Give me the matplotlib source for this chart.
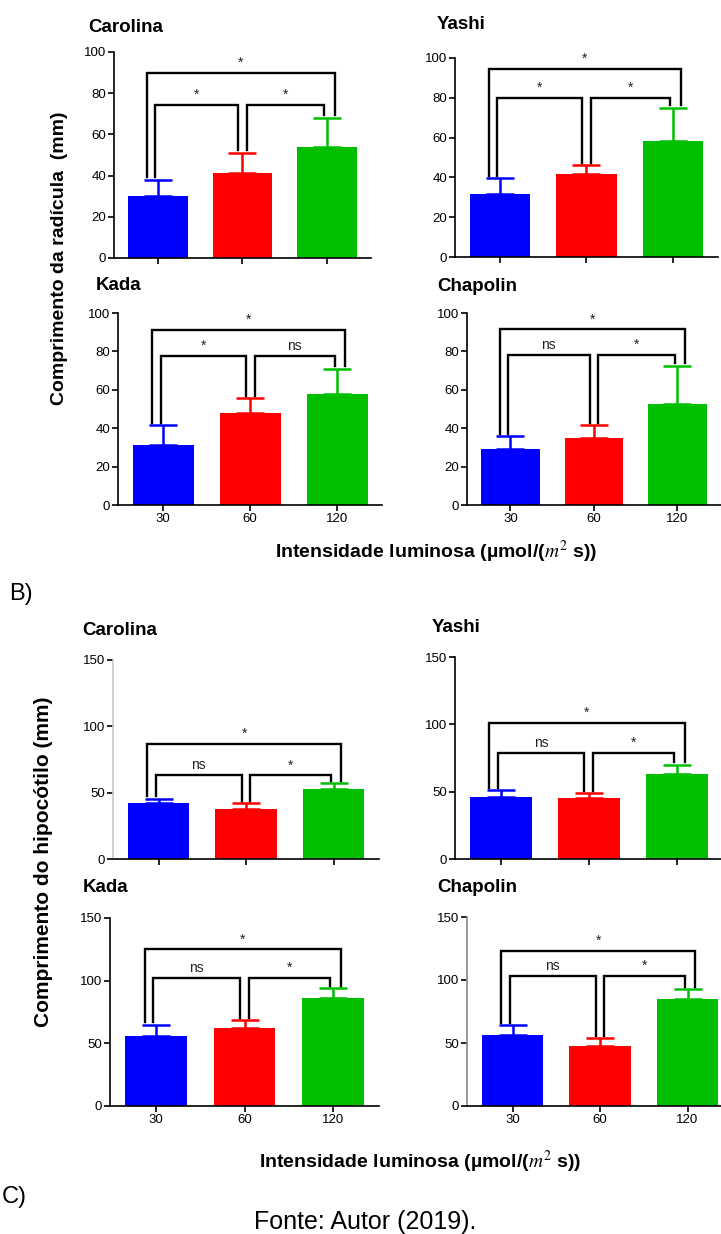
import matplotlib
matplotlib.use("Agg")
import matplotlib.pyplot as plt
from matplotlib import font_manager

W, H = 721, 1234

intensidades = ["30", "60", "120"]
cores = ["#0000ff", "#ff0000", "#00bf00"]
cultivares = ["Carolina", "Yashi", "Kada", "Chapolin"]

# comprimento da radicula (mm): media e desvio (so a barra de cima)
rad_carolina = [30, 41.5, 54]
rad_carolina_sd = [8, 9.5, 14]
rad_yashi = [31.5, 41.5, 58.5]
rad_yashi_sd = [8, 4.5, 16.5]
rad_kada = [31.5, 48, 58]
rad_kada_sd = [10, 7.5, 13]
rad_chapolin = [29, 35, 52.5]
rad_chapolin_sd = [7, 6.5, 20]
# significancia: (30 x 120, 30 x 60, 60 x 120)
rad_sig = {"Carolina": ["*", "*", "*"], "Yashi": ["*", "*", "*"],
           "Kada": ["*", "*", "ns"], "Chapolin": ["*", "ns", "*"]}
rad_chave = {"Carolina": (90, 74.5), "Yashi": (94.5, 80),
             "Kada": (91, 77.5), "Chapolin": (91.5, 78)}

# comprimento do hipocotilo (mm)
hip_carolina = [42, 37.5, 53]
hip_carolina_sd = [3.5, 4.5, 4]
hip_yashi = [46, 45, 63]
hip_yashi_sd = [5, 4, 7]
hip_kada = [56, 62, 86]
hip_kada_sd = [9, 6.5, 8]
hip_chapolin = [56, 48, 85]
hip_chapolin_sd = [8, 6, 8]
hip_sig = {"Carolina": ["*", "ns", "*"], "Yashi": ["*", "ns", "*"],
           "Kada": ["*", "ns", "*"], "Chapolin": ["*", "ns", "*"]}
hip_chave = {"Carolina": (87, 63), "Yashi": (101, 79),
             "Kada": (125, 102), "Chapolin": (123, 103)}

rad = {"Carolina": (rad_carolina, rad_carolina_sd), "Yashi": (rad_yashi, rad_yashi_sd),
       "Kada": (rad_kada, rad_kada_sd), "Chapolin": (rad_chapolin, rad_chapolin_sd)}
hip = {"Carolina": (hip_carolina, hip_carolina_sd), "Yashi": (hip_yashi, hip_yashi_sd),
       "Kada": (hip_kada, hip_kada_sd), "Chapolin": (hip_chapolin, hip_chapolin_sd)}

instalados = {f.name for f in font_manager.fontManager.ttflist}
fonte = "Liberation Sans" if "Liberation Sans" in instalados else "DejaVu Sans"
plt.rcParams["font.family"] = fonte
plt.rcParams["mathtext.fontset"] = "stix"

fig = plt.figure(figsize=(W / 100, H / 100), dpi=100)


def fx(x):
    return x / W


def fy(y):
    return 1 - y / H


def painel(nome, media, sd, sig, chave, ymax, yticks, left, y0, ytop, passo,
           rotulos_x, cinza=None):
    xlo = -0.52
    largura = min(3.04 * passo, W - left)
    ax = fig.add_axes([fx(left), fy(y0), largura / W, (y0 - ytop) / H])
    ax.set_xlim(xlo, xlo + largura / passo)
    ax.set_ylim(0, ymax)
    x = [0, 1, 2]
    ax.bar(x, media, width=0.7, color=cores, zorder=2)
    for i in x:
        ax.errorbar(i, media[i], yerr=[[0], [sd[i]]], fmt="none", ecolor=cores[i],
                    elinewidth=1.8, capsize=10, capthick=1.8, zorder=2)

    topo = [m + s for m, s in zip(media, sd)]
    folga = 0.012 * ymax
    alto, baixo = chave
    # (i, j, altura, desvio perna esq, desvio perna dir, rotulo)
    chaves = [(0, 2, alto, -0.13, 0.09, sig[0]),
              (0, 1, baixo, -0.03, -0.05, sig[1]),
              (1, 2, baixo, 0.05, -0.03, sig[2])]
    for i, j, h, di, dj, rot in chaves:
        ax.plot([i + di, i + di, j + dj, j + dj],
                [topo[i] + folga, h, h, topo[j] + folga],
                color="black", lw=1.7, solid_joinstyle="miter", zorder=3)
        ax.annotate(rot, ((i + di + j + dj) / 2, h), xytext=(0, 6),
                    textcoords="offset pixels", ha="center", va="baseline",
                    fontsize=10, color="#222222")

    for s in ["top", "right"]:
        ax.spines[s].set_visible(False)
    for s in ["left", "bottom"]:
        ax.spines[s].set_linewidth(1.2)
    if cinza:
        ax.spines["left"].set_color(cinza)
    ax.set_yticks(yticks)
    ax.set_xticks(x)
    ax.tick_params(axis="both", length=4, width=1.2, labelsize=9.5, pad=1.5)
    if rotulos_x:
        ax.set_xticklabels(intensidades)
    else:
        ax.set_xticklabels([])
    ax.set_facecolor("none")
    return ax


# bloco B: radicula
layout_rad = {"Carolina": (114, 258, 52, 84.5, False, (88, 32)),
              "Yashi": (455, 257, 58, 86.5, False, (437, 29)),
              "Kada": (118, 505, 313, 87, True, (96, 290)),
              "Chapolin": (467, 505, 313, 83.5, True, (437, 291))}
for nome in cultivares:
    left, y0, ytop, passo, rx, tit = layout_rad[nome]
    media, sd = rad[nome]
    painel(nome, media, sd, rad_sig[nome], rad_chave[nome], 100,
           [0, 20, 40, 60, 80, 100], left, y0, ytop, passo, rx)
    fig.text(fx(tit[0]), fy(tit[1]), nome, fontsize=13.5, fontweight="bold",
             ha="left", va="baseline")

# bloco C: hipocotilo
layout_hip = {"Carolina": (113, 859, 660, 87.5, False, (82, 635), "#c8c8c8"),
              "Yashi": (455, 859, 657, 88, False, (432, 632), None),
              "Kada": (110, 1106, 918, 88.5, True, (83, 892), None),
              "Chapolin": (467, 1106, 917, 87.5, True, (437, 892), "#888888")}
for nome in cultivares:
    left, y0, ytop, passo, rx, tit, cinza = layout_hip[nome]
    media, sd = hip[nome]
    painel(nome, media, sd, hip_sig[nome], hip_chave[nome], 150,
           [0, 50, 100, 150], left, y0, ytop, passo, rx, cinza)
    fig.text(fx(tit[0]), fy(tit[1]), nome, fontsize=13.5, fontweight="bold",
             ha="left", va="baseline")

# rotulos dos eixos
fig.text(fx(60), fy(258), "Comprimento da radícula  (mm)", rotation=90,
         fontsize=14, fontweight="bold", ha="center", va="center")
fig.text(fx(44), fy(862), "Comprimento do hipocótilo (mm)", rotation=90,
         fontsize=15, fontweight="bold", ha="center", va="center")
fig.text(fx(436), fy(558), r"Intensidade luminosa (µmol/($m^2$ s))",
         fontsize=14, fontweight="bold", ha="center", va="baseline")
fig.text(fx(420), fy(1168), r"Intensidade luminosa (µmol/($m^2$ s))",
         fontsize=14, fontweight="bold", ha="center", va="baseline")

fig.text(fx(9), fy(600), "B)", fontsize=17, ha="left", va="baseline")
fig.text(fx(2), fy(1203), "C)", fontsize=17, ha="left", va="baseline")
fig.text(fx(365), fy(1229), "Fonte: Autor (2019).", fontsize=18,
         ha="center", va="baseline")

fig.savefig("out.png", dpi=100, facecolor="white")
